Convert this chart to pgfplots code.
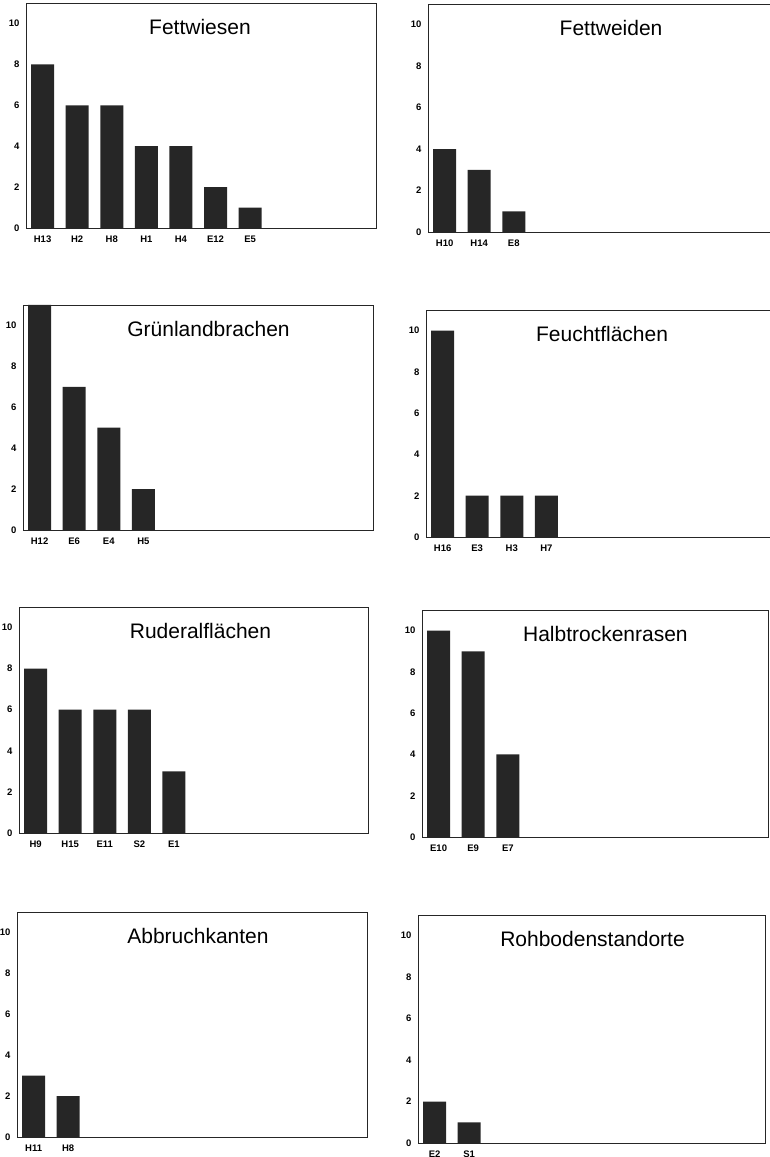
\documentclass[border=0pt]{standalone}
\usepackage{fontspec}
\setmainfont{Liberation Sans}
\usepackage{pgfplots}
\pgfplotsset{compat=1.18}

\pgfplotsset{
  panel/.style={
    scale only axis, width=350pt, height=225pt,
    anchor=north west,
    xmin=-0.48, xmax=9.64, ymin=0, ymax=11,
    ytick={0,2,4,6,8,10},
    xtick=data,
    major tick length=0pt,
    axis line style={line width=0.7pt, black!85},
    tick label style={font=\bfseries\fontsize{9.5}{10}\selectfont},
    /pgf/number format/assume math mode=true,
    yticklabel style={xshift=-3pt},
    xticklabel style={yshift=-4pt},
    title style={font=\fontsize{21}{24}\selectfont, anchor=base, yshift=-38pt},
  },
  cbar/.style={ybar, bar width=0.665, bar shift=0pt, fill=black!85, draw=none},
}

\begin{document}
\begin{tikzpicture}
\useasboundingbox (0,0) rectangle (769pt,1157pt);

% Fettwiesen
\begin{axis}[panel, at={(26pt,1154pt)}, height=225pt,
  title={Fettwiesen}, title style={at={(0.497,1)}},
  xticklabels={H13,H2,H8,H1,H4,E12,E5}]
\addplot[cbar] coordinates {(0,8) (1,6) (2,6) (3,4) (4,4) (5,2) (6,1)};
\end{axis}

% Fettweiden
\begin{axis}[panel, at={(428pt,1153pt)}, height=228pt,
  title={Fettweiden}, title style={at={(0.523,1)}},
  xticklabels={H10,H14,E8}]
\addplot[cbar] coordinates {(0,4) (1,3) (2,1)};
\end{axis}

% Gruenlandbrachen
\begin{axis}[panel, at={(23pt,852pt)}, height=225pt,
  title={Grünlandbrachen}, title style={at={(0.53,1)}},
  xticklabels={H12,E6,E4,H5}]
\addplot[cbar] coordinates {(0,11) (1,7) (2,5) (3,2)};
\end{axis}

% Feuchtflaechen
\begin{axis}[panel, at={(426pt,847pt)}, height=227pt,
  title={Feuchtflächen}, title style={at={(0.503,1)}},
  xticklabels={H16,E3,H3,H7}]
\addplot[cbar] coordinates {(0,10) (1,2) (2,2) (3,2)};
\end{axis}

% Ruderalflaechen
\begin{axis}[panel, at={(19pt,550pt)}, width=349pt, height=226pt, xmax=9.61,
  title={Ruderalflächen}, title style={at={(0.52,1)}},
  xticklabels={H9,H15,E11,S2,E1}]
\addplot[cbar] coordinates {(0,8) (1,6) (2,6) (3,6) (4,3)};
\end{axis}

% Halbtrockenrasen
\begin{axis}[panel, at={(422pt,547pt)}, width=346pt, height=227pt, xmax=9.52,
  title={Halbtrockenrasen}, title style={at={(0.53,1)}},
  xticklabels={E10,E9,E7}]
\addplot[cbar] coordinates {(0,10) (1,9) (2,4)};
\end{axis}

% Abbruchkanten
\begin{axis}[panel, at={(17pt,245pt)}, height=225pt,
  title={Abbruchkanten}, title style={at={(0.517,1)}},
  xticklabels={H11,H8}]
\addplot[cbar] coordinates {(0,3) (1,2)};
\end{axis}

% Rohbodenstandorte
\begin{axis}[panel, at={(418pt,242pt)}, width=347pt, height=228pt, xmax=9.55,
  title={Rohbodenstandorte}, title style={at={(0.503,1)}},
  xticklabels={E2,S1}]
\addplot[cbar] coordinates {(0,2) (1,1)};
\end{axis}

\end{tikzpicture}
\end{document}
